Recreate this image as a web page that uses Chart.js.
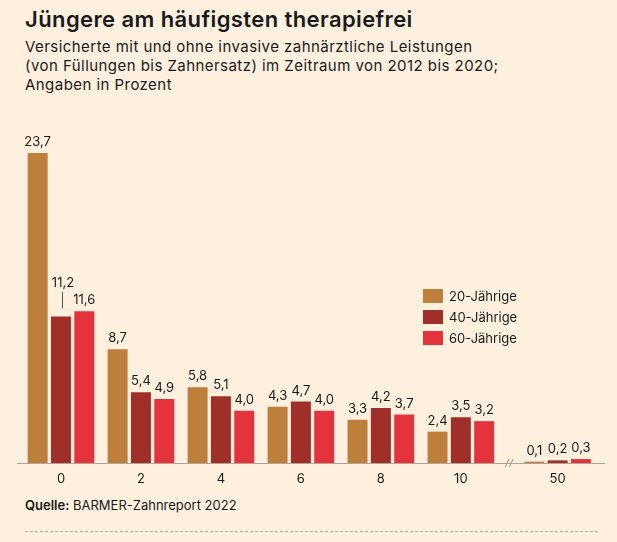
<!DOCTYPE html>
<html>
<head>
<meta charset="utf-8">
<script src="https://cdn.jsdelivr.net/npm/chart.js@4.4.0/dist/chart.umd.min.js"></script>
<style>
  body {
    margin: 0;
    width: 617px;
    height: 542px;
    overflow: hidden;
    position: relative;
    background: #fdf0df;
    color: #1a1a1a;
    font-family: Inter, sans-serif;
  }
  .title {
    position: absolute;
    left: 25px;
    top: 7px;
    font-size: 22px;
    line-height: 24px;
    font-weight: 600;
    letter-spacing: 0.4px;
    white-space: nowrap;
  }
  .subtitle {
    position: absolute;
    left: 25px;
    top: 37px;
    font-size: 15px;
    line-height: 19px;
    letter-spacing: 0.45px;
    white-space: nowrap;
  }
  .source {
    position: absolute;
    left: 25px;
    top: 497px;
    font-size: 13px;
    line-height: 16px;
    white-space: nowrap;
  }
  .source b { font-weight: 600; }
  .dashes {
    position: absolute;
    left: 25px;
    top: 531px;
    width: 573px;
    border-top: 1px dashed #b4aca2;
  }
  #chart {
    position: absolute;
    left: 0;
    top: 120px;
  }
</style>
</head>
<body>
<div class="title">Jüngere am häufigsten therapiefrei</div>
<div class="subtitle">Versicherte mit und ohne invasive zahnärztliche Leistungen<br>(von Füllungen bis Zahnersatz) im Zeitraum von 2012 bis 2020;<br>Angaben in Prozent</div>
<canvas id="chart" width="617" height="370"></canvas>
<div class="source"><b>Quelle:</b> BARMER-Zahnreport 2022</div>
<div class="dashes"></div>

<script>
const categories = ["0", "2", "4", "6", "8", "10", "50"];
const seriesLabels = ["20-Jährige", "40-Jährige", "60-Jährige"];
const values20 = [23.7, 8.7, 5.8, 4.3, 3.3, 2.4, 0.1];
const values40 = [11.2, 5.4, 5.1, 4.7, 4.2, 3.5, 0.2];
const values60 = [11.6, 4.9, 4.0, 4.0, 3.7, 3.2, 0.3];
const colors = ["#be7e3c", "#a02f2a", "#e2343a"];

// the axis is broken between "10" and "50", so that slot sits a bit further out
const breakAfter = 5;
const slot = (i) => i + (i > breakAfter ? 0.21 : 0);

const toPoints = (values) => values.map((v, i) => ({ x: slot(i), y: v }));

const fmt = (v) => v.toFixed(1).replace(".", ",");

const valueLabels = {
  id: "valueLabels",
  afterDatasetsDraw(chart) {
    const ctx = chart.ctx;
    ctx.save();
    ctx.font = "13px Inter";
    ctx.fillStyle = "#1a1a1a";
    ctx.textAlign = "center";
    ctx.textBaseline = "alphabetic";
    const labels = [];
    chart.data.datasets.forEach((ds, d) => {
      chart.getDatasetMeta(d).data.forEach((bar, i) => {
        const text = fmt(ds.data[i].y);
        labels.push({
          d, i, text,
          x: bar.x,
          top: bar.y,
          w: ctx.measureText(text).width,
          y: bar.y - 7,
        });
      });
    });
    // a label that (almost) runs into its right neighbour goes up, with a leader line
    labels.forEach((l) => {
      const n = labels.find((o) => o.i === l.i && o.d === l.d + 1);
      if (n && l.x + l.w / 2 + 2.5 > n.x - n.w / 2 && Math.abs(l.y - n.y) < 12) {
        l.y = n.y - 17;
        l.lifted = true;
      }
    });
    labels.forEach((l) => {
      ctx.fillText(l.text, l.x + (l.lifted ? 2 : 0), l.y);
      if (l.lifted) {
        ctx.strokeStyle = "#555";
        ctx.lineWidth = 1;
        ctx.beginPath();
        ctx.moveTo(Math.round(l.x) + 1.5, l.y + 5);
        ctx.lineTo(Math.round(l.x) + 1.5, l.top - 8);
        ctx.stroke();
      }
    });

    // axis break mark
    const xs = chart.scales.x;
    const bx = xs.getPixelForValue((slot(breakAfter) + slot(breakAfter + 1)) / 2);
    const by = chart.chartArea.bottom;
    ctx.strokeStyle = "#9a948c";
    ctx.lineWidth = 1;
    [-2, 2].forEach((off) => {
      ctx.beginPath();
      ctx.moveTo(bx + off - 2, by + 4);
      ctx.lineTo(bx + off + 2, by - 4);
      ctx.stroke();
    });
    ctx.restore();
  },
};

const boxLegend = {
  id: "boxLegend",
  afterDraw(chart) {
    const ctx = chart.ctx;
    ctx.save();
    ctx.font = "13px Inter";
    ctx.textBaseline = "middle";
    ctx.textAlign = "left";
    chart.data.datasets.forEach((ds, d) => {
      const cy = 176 + d * 21;
      ctx.fillStyle = ds.backgroundColor;
      ctx.fillRect(423, cy - 7, 20, 14);
      ctx.fillStyle = "#1a1a1a";
      ctx.fillText(ds.label, 449, cy + 1);
    });
    ctx.restore();
  },
};

new Chart(document.getElementById("chart"), {
  type: "bar",
  data: {
    datasets: [values20, values40, values60].map((vals, d) => ({
      label: seriesLabels[d],
      data: toPoints(vals),
      backgroundColor: colors[d],
      borderWidth: 0,
      categoryPercentage: 0.875,
      barPercentage: 0.857,
    })),
  },
  options: {
    responsive: false,
    animation: false,
    layout: { padding: { left: 17, right: 13, top: 13, bottom: 0 } },
    plugins: {
      legend: { display: false },
      tooltip: { enabled: false },
    },
    scales: {
      x: {
        type: "linear",
        offset: false,
        min: -0.55,
        max: 6.79,
        afterBuildTicks: (s) => {
          s.ticks = categories.map((c, i) => ({ value: slot(i) }));
        },
        afterFit: (s) => {
          s.height = 27;
        },
        ticks: {
          callback: (v, i) => categories[i],
          color: "#1a1a1a",
          font: { family: "Inter", size: 13 },
          padding: 8,
          autoSkip: false,
          maxRotation: 0,
        },
        grid: { display: false, drawTicks: false },
        border: { display: true, color: "#aaa49c", width: 1 },
      },
      y: {
        display: false,
        min: 0,
        max: 25.23,
      },
    },
  },
  plugins: [valueLabels, boxLegend],
});
</script>
</body>
</html>
